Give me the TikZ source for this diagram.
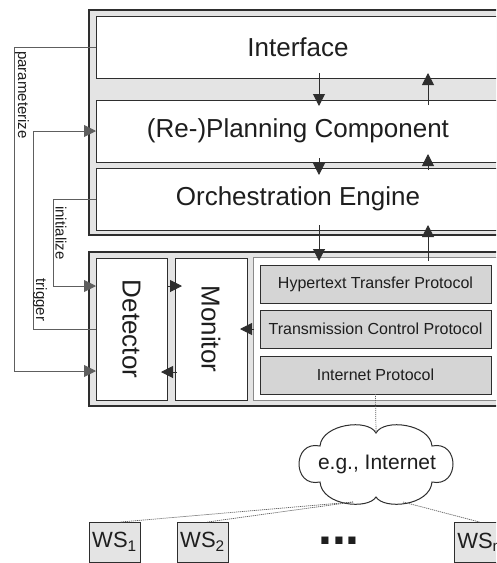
\documentclass[tikz,border=0pt]{standalone}
\usepackage{fontspec}
\setmainfont{Liberation Sans}
\usetikzlibrary{arrows.meta}
\definecolor{band}{HTML}{E4E4E4}
\definecolor{protofill}{HTML}{D5D5D5}
\definecolor{ink}{HTML}{2E2E2E}
\definecolor{wire}{HTML}{5E5E5E}
\definecolor{rim}{HTML}{8A8A8A}
\definecolor{txt}{HTML}{1E1E1E}

\tikzset{
  shell/.style={draw=ink, fill=band, line width=1.1pt, inner sep=0pt, outer sep=0pt, anchor=north west},
  layer/.style={draw=ink, fill=white, line width=1pt, inner sep=0pt, outer sep=0pt, anchor=north west,
    text=txt, font=\fontsize{26}{30}\selectfont},
  stackbox/.style={draw=rim, fill=white, line width=0.9pt, inner sep=0pt, outer sep=0pt, anchor=north west},
  protobox/.style={draw=ink, fill=protofill, line width=1pt, inner sep=0pt, outer sep=0pt, anchor=north west,
    minimum width=231pt, minimum height=38pt, text=txt, font=\fontsize{16}{19}\selectfont},
  wsbox/.style={draw=ink, fill=band, line width=1pt, inner sep=0pt, outer sep=0pt, anchor=north west,
    minimum width=51pt, minimum height=40pt, text=txt, font=\fontsize{22}{26}\selectfont},
  vtext/.style={rotate=-90, text=txt, font=\fontsize{26}{30}\selectfont, inner sep=0pt},
  lbl/.style={rotate=-90, text=txt, font=\fontsize{15}{18}\selectfont, inner sep=0pt},
  arr/.style={draw=ink, line width=1pt, -{Triangle[length=12pt,width=12pt]}},
  wirearr/.style={draw=wire, line width=0.9pt, -{Triangle[length=12pt,width=12pt]}},
  netline/.style={draw=wire, line width=0.7pt, dash pattern=on 1.2pt off 0.8pt},
}

\begin{document}
\begin{tikzpicture}[x=1pt, y=-1pt]
  \useasboundingbox (0,0) rectangle (496,563);
  \clip (0,0) rectangle (496,563);

  % upper block: interface, planning, orchestration
  \node[shell, minimum width=420pt, minimum height=225pt] (upper) at (89,10) {};
  \node[layer, minimum width=404pt, minimum height=62pt] (iface) at (96,16) {Interface};
  \node[layer, minimum width=404pt, minimum height=62pt] (plan) at (96,100) {(Re-)Planning Component};
  \node[layer, minimum width=404pt, minimum height=62pt] (orch) at (96,168) {Orchestration Engine};

  % lower block: detector, monitor, protocol stack
  \node[shell, minimum width=420pt, minimum height=154pt] (lower) at (89,252) {};
  \node[layer, minimum width=71pt, minimum height=142pt] (det) at (96,258) {};
  \node[layer, minimum width=72pt, minimum height=142pt] (mon) at (175,258) {};
  \node[vtext] (detlbl) at (det.center) {Detector};
  \node[vtext] (monlbl) at (mon.center) {Monitor};
  \node[stackbox, minimum width=260pt, minimum height=143pt] (stack) at (253,257) {};
  \node[protobox] (http) at (260,265) {Hypertext Transfer Protocol};
  \node[protobox] (tcp) at (260,310) {Transmission Control Protocol};
  \node[protobox] (ip) at (260,356) {Internet Protocol};

  % network cloud, six puffs
  \draw[draw=ink, fill=white, line width=1pt]
    (376,433) .. controls (384,418) and (430,424) .. (432,446)
              .. controls (460,440) and (460,488) .. (432,482)
              .. controls (430,506) and (384,510) .. (376,497)
              .. controls (368,510) and (322,506) .. (320,482)
              .. controls (292,488) and (292,440) .. (320,446)
              .. controls (322,424) and (368,418) .. (376,433) -- cycle;
  \node[text=txt, font=\fontsize{21}{25}\selectfont, inner sep=0pt] (net) at (377,464) {e.g., Internet};
  \coordinate (nettop) at (376,433);
  \coordinate (netleft) at (353,502);
  \coordinate (netright) at (403,502);

  % services
  \node[wsbox] (ws1) at (89,522) {WS\textsubscript{1}};
  \node[wsbox] (ws2) at (177,522) {WS\textsubscript{2}};
  \node[wsbox] (wsn) at (454,522) {WS\textsubscript{n}};
  \node[text=txt, font=\bfseries\fontsize{50}{50}\selectfont, inner sep=0pt, anchor=base] (dots) at (339,544) {...};

  \draw[netline] (ip.south) -- (nettop);
  \draw[netline] (netleft) -- ([xshift=6pt]ws1.north);
  \draw[netline] (netleft) -- ([xshift=5pt]ws2.north);
  \draw[netline] (netright) -- (wsn.north);

  % vertical flow between layers
  \coordinate (dncol) at (319,0);
  \coordinate (upcol) at (428,0);
  \draw[arr] ([yshift=5pt]dncol |- iface.south) -- ([yshift=-6pt]dncol |- plan.north);
  \draw[arr] ([yshift=-5pt]upcol |- plan.north) -- ([yshift=5pt]upcol |- iface.south);
  \draw[arr] ([yshift=4pt]dncol |- plan.south) -- ([yshift=-7pt]dncol |- orch.north);
  \draw[arr] ([yshift=-2pt]upcol |- orch.north) -- ([yshift=8pt]upcol |- plan.south);
  \draw[arr] ([yshift=5pt]dncol |- orch.south) -- ([yshift=-4pt]dncol |- stack.north);
  \draw[arr] ([yshift=-4pt]upcol |- stack.north) -- ([yshift=5pt]upcol |- orch.south);

  % detector / monitor exchange
  \draw[arr] ([yshift=-28pt]det.north east) -- ([yshift=-28pt,xshift=7pt]mon.north west);
  \draw[arr] ([yshift=28pt,xshift=2pt]mon.south west) -- ([yshift=28pt,xshift=-6pt]det.south east);
  \draw[arr] ([xshift=-6pt]tcp.west) -- ([xshift=-7pt]mon.east |- tcp.west);

  % control connectors on the left
  \draw[wirearr] (iface.west) -- ++(-82,0) |- ([yshift=29pt]det.south west);
  \draw[wirearr] (det.west) -- ++(-63,0) |- (plan.west);
  \draw[wirearr] (orch.west) -- ++(-43,0) |- ([yshift=-28pt]det.north west);
  \node[lbl] (lpar) at (22,95) {parameterize};
  \node[lbl] (ltrig) at (40,300) {trigger};
  \node[lbl] (linit) at (61,233) {initialize};
\end{tikzpicture}
\end{document}
